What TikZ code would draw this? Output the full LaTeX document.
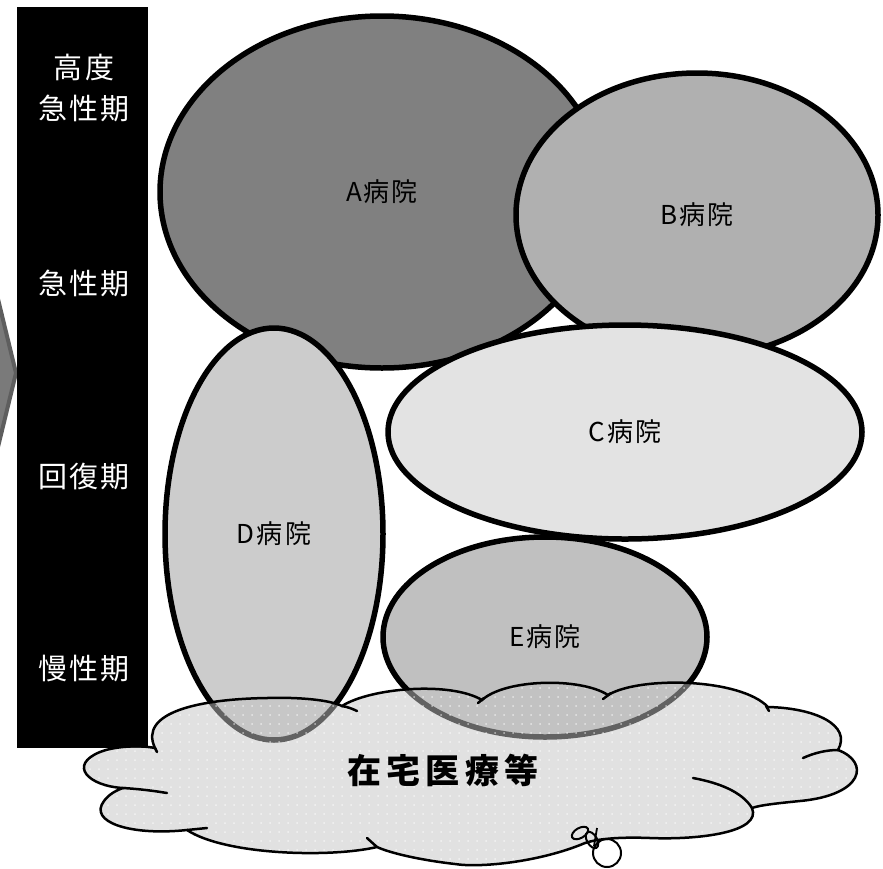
\documentclass[tikz,border=0pt]{standalone}
\usepackage{fontspec}
\setmainfont{Noto Sans CJK JP}
\usetikzlibrary{shapes.geometric,patterns.meta}
\definecolor{cA}{HTML}{808080}
\definecolor{cB}{HTML}{B0B0B0}
\definecolor{cC}{HTML}{E3E3E3}
\definecolor{cD}{HTML}{CCCCCC}
\definecolor{cE}{HTML}{C0C0C0}
\definecolor{cloudfill}{HTML}{C4C4C4}
\definecolor{chevfill}{HTML}{7A7A7A}
\definecolor{chevdraw}{HTML}{5E5E5E}
\tikzset{
  hosp/.style={ellipse, draw=black, line width=5.5pt, inner sep=0pt, font=\fontsize{26}{28}\selectfont\addfontfeature{LetterSpace=8}},
  phase/.style={text=white, align=center, font=\fontsize{29}{41}\selectfont\addfontfeature{LetterSpace=8}},
  cloudline/.style={draw=black, line width=2.5pt, line cap=round},
}
\begin{document}
\begin{tikzpicture}[x=1pt,y=-1pt]
\useasboundingbox (0,0) rectangle (883,868);
\fill[white] (0,0) rectangle (883,868);
% chevron at left edge
\draw[fill=chevfill, draw=chevdraw, line width=4pt, line join=miter] (-12,258) -- (16,373) -- (-12,488) -- cycle;
% black bar
\node[fill=black, minimum width=131pt, minimum height=741pt, inner sep=0pt, anchor=north west] (bar) at (17,7) {};
\node[phase] (p1) at (84,88) {高度\\急性期};
\node[phase] (p2) at (84,283) {急性期};
\node[phase] (p3) at (84,476) {回復期};
\node[phase] (p4) at (84,669) {慢性期};
% hospitals
\node[hosp, fill=cA, minimum width=444pt, minimum height=352pt] (A) at (382,192) {A病院};
\node[hosp, fill=cB, minimum width=362pt, minimum height=284pt] (B) at (697,215) {B病院};
\node[hosp, fill=cC, minimum width=474pt, minimum height=214pt] (C) at (625,432) {C病院};
\node[hosp, fill=cD, minimum width=218pt, minimum height=412pt] (D) at (274,534) {D病院};
\node[hosp, fill=cE, minimum width=324pt, minimum height=200pt] (E) at (545,637) {E病院};
% cloud
\path[fill=cloudfill, fill opacity=0.5,
      postaction={fill opacity=0.6, pattern={Dots[distance=9pt, radius=1pt]}, pattern color=white}]
  (155,748) .. controls (138,712) and (200,699) .. (267,698)
            .. controls (300,697) and (330,700) .. (342,706)
  .. controls (370,688) and (450,681) .. (482,700)
  .. controls (505,679) and (580,677) .. (608,695)
  .. controls (640,676) and (740,678) .. (768,707)
  .. controls (815,708) and (852,725) .. (838,750)
  .. controls (870,762) and (864,795) .. (800,801)
            .. controls (780,803) and (760,805) .. (752,808)
  .. controls (762,832) and (700,840) .. (650,838)
            .. controls (625,837) and (600,838) .. (585,843)
  .. controls (540,862) and (480,868) .. (455,864)
            .. controls (420,860) and (390,853) .. (377,847)
  .. controls (330,858) and (225,855) .. (187,830)
  .. controls (130,836) and (88,822) .. (104,801)
            .. controls (109,794) and (117,790) .. (123,788)
  .. controls (88,786) and (68,765) .. (100,752)
            .. controls (115,746) and (140,745) .. (155,748) -- cycle;
\draw[cloudline]
  (155,748) .. controls (138,712) and (200,699) .. (267,698)
            .. controls (300,697) and (330,700) .. (342,706)
  .. controls (370,688) and (450,681) .. (482,700)
  .. controls (505,679) and (580,677) .. (608,695)
  .. controls (640,676) and (740,678) .. (768,707)
  .. controls (815,708) and (852,725) .. (838,750)
  .. controls (870,762) and (864,795) .. (800,801)
            .. controls (780,803) and (760,805) .. (752,808)
  .. controls (762,832) and (700,840) .. (650,838)
            .. controls (625,837) and (600,838) .. (585,843)
  .. controls (540,862) and (480,868) .. (455,864)
            .. controls (420,860) and (390,853) .. (377,847)
  .. controls (330,858) and (225,855) .. (187,830)
  .. controls (130,836) and (88,822) .. (104,801)
            .. controls (109,794) and (117,790) .. (123,788)
  .. controls (88,786) and (68,765) .. (100,752)
            .. controls (115,746) and (140,745) .. (155,748) -- cycle;
% inner tails of the cloud lobes
\draw[cloudline] (342,706) .. controls (348,707) and (353,709) .. (357,711);
\draw[cloudline] (484,698) -- (478,703);
\draw[cloudline] (611,693) -- (603,699);
\draw[cloudline] (766,706) -- (769,711);
\draw[cloudline] (838,750) .. controls (826,750) and (814,753) .. (803,758);
\draw[cloudline] (752,808) .. controls (742,792) and (720,783) .. (693,778);
\draw[cloudline] (377,847) -- (367,838);
\draw[cloudline] (187,830) -- (207,828);
\draw[cloudline] (123,788) .. controls (140,789) and (155,791) .. (167,793);
\draw[cloudline] (155,748) -- (157,752);
% scribble at the bottom
\draw[draw=black, line width=2pt] (607,853) circle (14);
\draw[draw=black, line width=2pt, rotate around={30:(580,833)}] (580,833) ellipse (9 and 5);
\draw[draw=black, line width=2pt, rotate around={-60:(592,840)}] (592,840) ellipse (9 and 5);
\draw[draw=black, line width=1.8pt] (597,828) -- (594,846);
% home care text
\node[font=\fontsize{34}{40}\selectfont\bfseries\addfontfeature{LetterSpace=16}] (home) at (443,770) {在宅医療等};
\end{tikzpicture}
\end{document}
